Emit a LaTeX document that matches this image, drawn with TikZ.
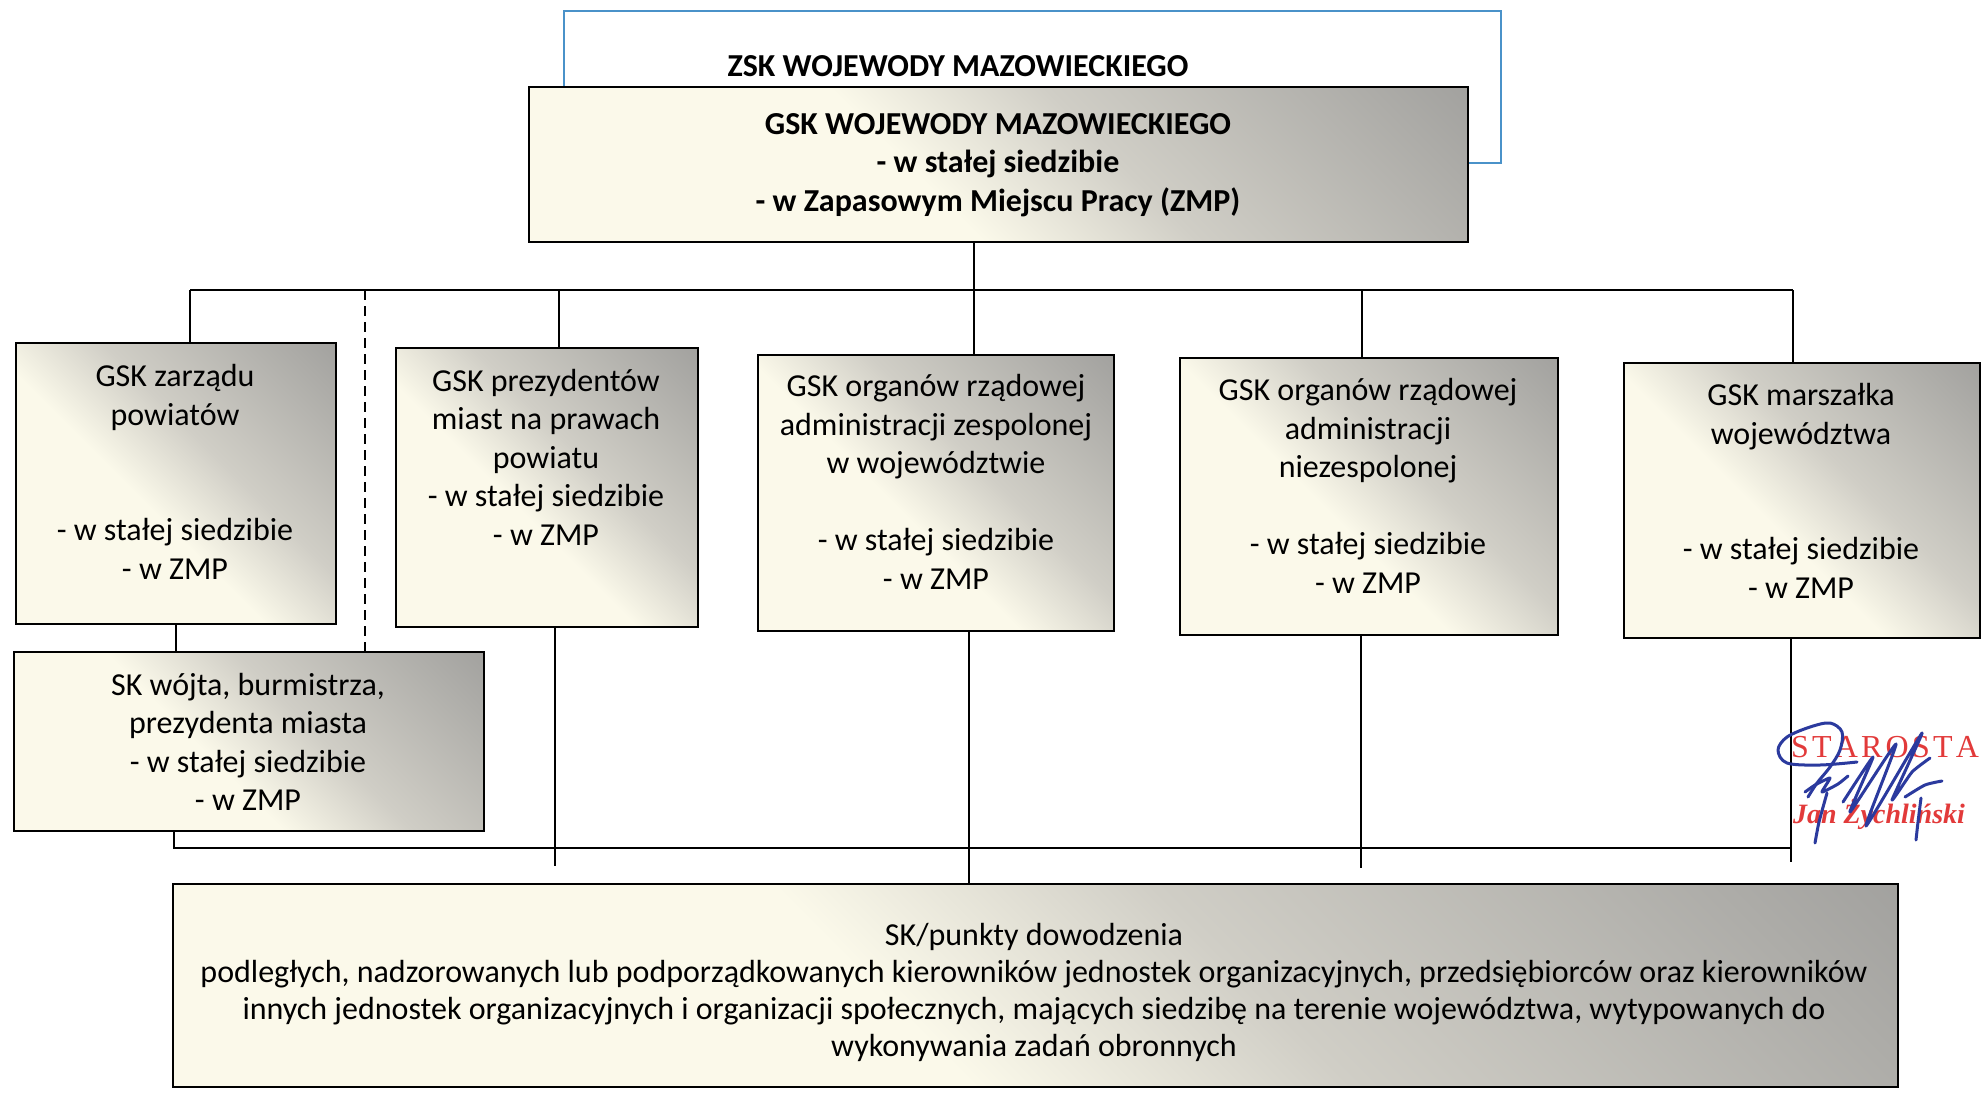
\documentclass[tikz,border=0pt]{standalone}
\usepackage{fontspec}
\setmainfont{Carlito}
\newfontfamily\stampfont{Liberation Serif}
\usetikzlibrary{calc}
\definecolor{cream}{HTML}{FBF9EA}
\definecolor{midgray}{HTML}{D0CEC6}
\definecolor{shadegray}{HTML}{8A8A8A}
\definecolor{zskblue}{HTML}{4A92C9}
\definecolor{stampred}{HTML}{E23A3A}
\definecolor{signblue}{HTML}{2B3A9E}
\pgfdeclarehorizontalshading{boxshade}{100bp}{color(0bp)=(cream); color(44bp)=(cream); color(58bp)=(midgray); color(100bp)=(shadegray)}
\begin{document}
\begin{tikzpicture}[x=0.5pt,y=-0.5pt,
  box/.style={draw=black, line width=1.1pt, shade, shading=boxshade, shading angle=45, anchor=north west, inner sep=0pt},
  txt/.style={align=center, font=\fontsize{16}{19.25}\selectfont, inner sep=0pt, text=black},
  btxt/.style={align=center, font=\fontsize{16}{19.25}\selectfont\bfseries, inner sep=0pt, text=black},
  conn/.style={line width=0.9pt, draw=black},
]
\useasboundingbox (0,0) rectangle (1987,1094);
\fill[white] (0,0) rectangle (1987,1094);

% top boxes
\node[draw=zskblue, line width=0.8pt, fill=white, anchor=north west, inner sep=0pt,
      minimum width=468.5pt, minimum height=76pt] (zsk) at (563,10) {};
\node[btxt] (zskt) at (958,66) {ZSK WOJEWODY MAZOWIECKIEGO};
\node[box, minimum width=469.5pt, minimum height=77.5pt] (gsk) at (528,86) {};
\node[btxt] (gskt) at (998,165) {GSK WOJEWODY MAZOWIECKIEGO\\- w stałej siedzibie\\- w Zapasowym Miejscu Pracy (ZMP)};

% second row
\node[box, minimum width=160pt, minimum height=140.5pt] (b1) at (15,342) {};
\node[txt] (b1t) at (175,472) {GSK zarządu\\powiatów\\[2\baselineskip]- w stałej siedzibie\\- w ZMP};
\node[box, minimum width=151pt, minimum height=139.5pt] (b2) at (395,347) {};
\node[txt] (b2t) at (546,457) {GSK prezydentów\\miast na prawach\\powiatu\\- w stałej siedzibie\\- w ZMP};
\node[box, minimum width=178pt, minimum height=138pt] (b3) at (757,354) {};
\node[txt] (b3t) at (936,482) {GSK organów rządowej\\administracji zespolonej\\w województwie\\[\baselineskip]- w stałej siedzibie\\- w ZMP};
\node[box, minimum width=189pt, minimum height=138.5pt] (b4) at (1179,357) {};
\node[txt] (b4t) at (1368,486) {GSK organów rządowej\\administracji\\niezespolonej\\[\baselineskip]- w stałej siedzibie\\- w ZMP};
\node[box, minimum width=178pt, minimum height=137.5pt] (b5) at (1623,362) {};
\node[txt] (b5t) at (1801,491) {GSK marszałka\\województwa\\[2\baselineskip]- w stałej siedzibie\\- w ZMP};

% SK box
\node[box, minimum width=235pt, minimum height=89.5pt] (sk) at (13,651) {};
\node[txt] (skt) at (248,742) {SK wójta, burmistrza,\\prezydenta miasta\\- w stałej siedzibie\\- w ZMP};

% bottom box
\node[box, minimum width=862.5pt, minimum height=101.5pt] (bot) at (172,883) {};
\node[txt, font=\fontsize{16}{18.5}\selectfont] (bott) at (1034,992) {SK/punkty dowodzenia\\podległych, nadzorowanych lub podporządkowanych kierowników jednostek organizacyjnych, przedsiębiorców oraz kierowników\\innych jednostek organizacyjnych i organizacji społecznych, mających siedzibę na terenie województwa, wytypowanych do\\wykonywania zadań obronnych};

% upper connectors
\coordinate (trunk) at (974,0);
\draw[conn] (gsk.south -| trunk) -- (b3.north -| trunk);
\coordinate (busL) at (190,290);
\coordinate (busR) at (1793,290);
\draw[conn] (busL) -- (busR);
\draw[conn] (busL) -- (b1.north -| busL);
\coordinate (d2) at (559,290);
\draw[conn] (d2) -- (b2.north -| d2);
\coordinate (d4) at (1362,290);
\draw[conn] (d4) -- (b4.north -| d4);
\draw[conn] (busR) -- (b5.north -| busR);
\coordinate (dsh) at (365,290);
\draw[conn, dash pattern=on 5pt off 3pt] (dsh) -- (sk.north -| dsh);
\coordinate (c1) at (176,0);
\draw[conn] (b1.south -| c1) -- (sk.north -| c1);

% lower connectors
\coordinate (lbL) at (174,848);
\coordinate (lbR) at (1791,848);
\draw[conn] (sk.south -| lbL) -- (lbL) -- (lbR);
\coordinate (e2) at (555,866);
\draw[conn] (b2.south -| e2) -- (e2);
\coordinate (e3) at (969,0);
\draw[conn] (b3.south -| e3) -- (bot.north -| e3);
\coordinate (e4) at (1361,868);
\draw[conn] (b4.south -| e4) -- (e4);
\coordinate (e5) at (1791,862);
\draw[conn] (b5.south -| e5) -- (e5);

% stamp
\node[font=\stampfont\fontsize{16}{16}\selectfont, text=stampred, inner sep=0pt] (stamp1) at (1885,747)
  {S\kern1.6pt T\kern1.6pt A\kern1.6pt R\kern1.6pt O\kern1.6pt S\kern1.6pt T\kern1.6pt A};
\node[font=\stampfont\bfseries\itshape\fontsize{14}{14}\selectfont, text=stampred, inner sep=0pt] (stamp2) at (1879,814) {Jan Żychliński};

% signature
\begin{scope}[signblue, line width=1.5pt, line cap=round, line join=round]
\draw plot[smooth, tension=0.55] coordinates {(1857,762) (1820,765) (1787,763) (1778,750) (1787,737) (1810,727) (1830,723) (1842,732) (1840,750) (1830,767) (1817,783) (1808,797)};
\draw plot[smooth, tension=0.3] coordinates {(1805,792) (1815,785) (1830,778) (1822,792) (1838,784) (1848,776)};
\draw plot[smooth, tension=0.3] coordinates {(1843,802) (1873,757) (1850,812) (1896,744) (1866,826) (1922,733) (1892,800) (1912,772) (1930,758)};
\draw plot[smooth, tension=0.4] coordinates {(1905,797) (1925,785) (1942,781)};
\draw plot[smooth, tension=0.4] coordinates {(1827,793) (1819,822) (1815,843)};
\draw plot[smooth, tension=0.4] coordinates {(1921,798) (1918,822) (1916,840)};
\end{scope}
\end{tikzpicture}
\end{document}
